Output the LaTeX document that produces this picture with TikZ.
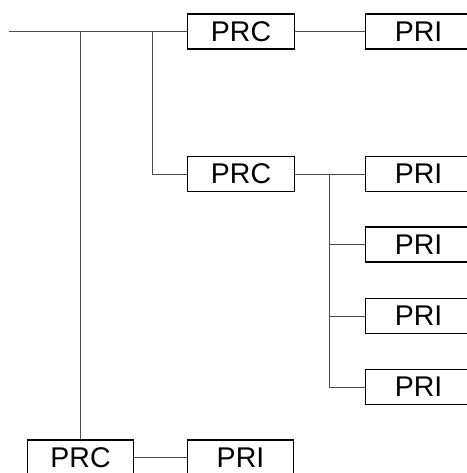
\documentclass[tikz,border=0pt]{standalone}
\usepackage{fontspec}
\setmainfont{Liberation Sans}
\begin{document}
\begin{tikzpicture}[x=1pt,y=-1pt,
  box/.style={draw=black,line width=1.2pt,fill=white,minimum width=106.5pt,minimum height=35pt,inner sep=0pt,font=\fontsize{28.5}{28.5}\selectfont},
  wire/.style={draw=black!70,line width=1pt}]
\useasboundingbox (0,0) rectangle (466,473);
\node[box] (prc1) at (241,31.5) {PRC};
\node[box] (pri1) at (418.5,31.5) {PRI};
\node[box] (prc2) at (241,174) {PRC};
\node[box] (pri2a) at (418.5,174) {PRI};
\node[box] (pri2b) at (418.5,244.5) {PRI};
\node[box] (pri2c) at (418.5,316) {PRI};
\node[box] (pri2d) at (418.5,387) {PRI};
\node[box] (prc3) at (80.5,457.5) {PRC};
\node[box] (pri3) at (240.5,457.5) {PRI};
\coordinate (start) at (9,31.5);
\coordinate (j1) at (80.5,31.5);
\coordinate (j2) at (152,31.5);
\coordinate (k) at (329.5,174);
\draw[wire] (start) -- (prc1.west);
\draw[wire] (j1) -- (prc3.north);
\draw[wire] (j2) |- (prc2.west);
\draw[wire] (prc1.east) -- (pri1.west);
\draw[wire] (prc2.east) -- (pri2a.west);
\draw[wire] (k) |- (pri2d.west);
\draw[wire] (k |- pri2b.west) -- (pri2b.west);
\draw[wire] (k |- pri2c.west) -- (pri2c.west);
\draw[wire] (prc3.east) -- (pri3.west);
\end{tikzpicture}
\end{document}
